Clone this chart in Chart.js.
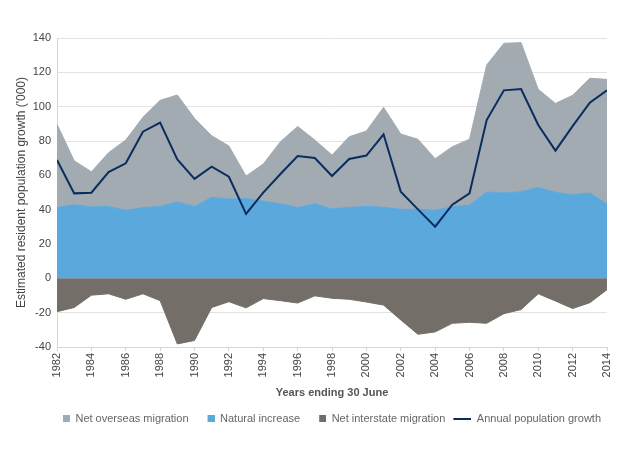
<!DOCTYPE html>
<html>
<head>
<meta charset="utf-8">
<script src="https://cdn.jsdelivr.net/npm/chart.js@4.4.0/dist/chart.umd.min.js"></script>
<style>
  html, body { margin: 0; padding: 0; background: #fff; }
</style>
</head>
<body>
<canvas id="popGrowth" width="631" height="462"></canvas>
<script>
// years ending 30 June
const years = [1982, 1983, 1984, 1985, 1986, 1987, 1988, 1989, 1990, 1991, 1992,
  1993, 1994, 1995, 1996, 1997, 1998, 1999, 2000, 2001, 2002, 2003, 2004, 2005,
  2006, 2007, 2008, 2009, 2010, 2011, 2012, 2013, 2014];

// '000 persons
const naturalIncrease = [41.2, 42.9, 41.6, 41.9, 39.6, 41.2, 41.9, 44.5, 41.9, 47.2, 46.2,
  46.6, 44.9, 43.5, 41.2, 43.5, 40.4, 41.4, 41.9, 41.4, 40.2, 40.2, 39.6, 41.7,
  42.7, 50.3, 49.7, 50.5, 53.0, 50.1, 48.7, 49.7, 43.3];
const netOverseas = [48.5, 25.6, 20.5, 31.3, 41.0, 52.6, 61.8, 62.3, 51.3, 35.9, 30.9,
  13.0, 21.7, 36.1, 47.3, 37.1, 31.4, 41.1, 43.9, 58.2, 43.9, 40.8, 30.1, 35.0,
  38.3, 74.0, 87.2, 86.8, 57.1, 51.8, 57.9, 66.8, 72.6];
const netInterstate = [-19.4, -17.0, -9.8, -9.0, -12.2, -9.0, -13.0, -38.2, -36.2, -17.0, -13.6,
  -17.2, -11.8, -13.0, -14.4, -10.2, -11.6, -12.2, -13.8, -15.6, -24.2, -32.6, -31.2, -26.2,
  -25.6, -26.2, -20.6, -18.2, -9.0, -13.2, -17.6, -14.2, -6.6];
const annualGrowth = [68.9, 49.5, 49.9, 61.9, 67.0, 85.4, 90.7, 69.3, 57.9, 65.0, 59.2,
  37.5, 49.9, 60.8, 71.3, 70.1, 59.6, 69.5, 71.5, 83.9, 50.5, 40.2, 30.1, 42.9,
  49.5, 92.2, 109.5, 110.3, 89.3, 74.4, 88.7, 102.3, 109.5];

const yMin = -40, yMax = 140, yStep = 20;
const xStep = 2;

const colNom = '#a3abb2';
const colNat = '#5ba8dc';
const colInter = '#736f68';
const colGrowth = '#0b2c5e';

function pts(vals) {
  return years.map((y, i) => ({ x: y, y: vals[i] }));
}

// small legend markers
function boxMarker(color) {
  const c = document.createElement('canvas');
  c.width = 20; c.height = 7;
  const g = c.getContext('2d');
  g.fillStyle = color;
  g.fillRect(13, 0, 7, 7);
  return c;
}
function lineMarker(color) {
  const c = document.createElement('canvas');
  c.width = 20; c.height = 2;
  const g = c.getContext('2d');
  g.fillStyle = color;
  g.fillRect(2, 0, 18, 2);
  return c;
}

const legendOrder = [1, 0, 2, 3];
const markers = [boxMarker(colNat), boxMarker(colNom), boxMarker(colInter), lineMarker(colGrowth)];

const ctx = document.getElementById('popGrowth').getContext('2d');
const chart = new Chart(ctx, {
  type: 'line',
  data: {
    datasets: [{
      label: 'Natural increase',
      data: pts(naturalIncrease),
      backgroundColor: colNat,
      borderColor: colNat,
      borderWidth: 1,
      fill: 'origin',
      stack: 'flows',
      order: 1
    }, {
      label: 'Net overseas migration',
      data: pts(netOverseas),
      backgroundColor: colNom,
      borderColor: colNom,
      borderWidth: 1,
      fill: '-1',
      stack: 'flows',
      order: 1
    }, {
      label: 'Net interstate migration',
      data: pts(netInterstate),
      backgroundColor: colInter,
      borderColor: colInter,
      borderWidth: 1,
      fill: 'origin',
      stack: 'flows',
      order: 1
    }, {
      label: 'Annual population growth',
      data: pts(annualGrowth),
      borderColor: colGrowth,
      backgroundColor: colGrowth,
      borderWidth: 2,
      fill: false,
      stack: 'growth',
      order: 0
    }]
  },
  options: {
    responsive: false,
    animation: false,
    elements: { point: { radius: 0 }, line: { tension: 0 } },
    layout: { padding: { left: 10, right: 24, top: 38, bottom: 28 } },
    scales: {
      x: {
        type: 'linear',
        min: years[0],
        max: years[years.length - 1],
        grid: { drawOnChartArea: false, drawTicks: true, tickLength: 4, color: '#d6d6d6' },
        border: { color: '#d6d6d6' },
        ticks: {
          stepSize: xStep,
          minRotation: 90,
          maxRotation: 90,
          padding: 2,
          color: '#444',
          font: { family: 'Liberation Sans', size: 11 },
          callback: v => String(v)
        },
        title: {
          display: true,
          text: 'Years ending 30 June',
          color: '#555',
          padding: { top: 4, bottom: 7 },
          font: { family: 'Liberation Sans', size: 11, weight: 'bold' }
        },
        afterFit: s => { s.height = 60; }
      },
      y: {
        stacked: true,
        min: yMin,
        max: yMax,
        grid: { color: '#e2e2e2', drawTicks: false },
        border: { color: '#d6d6d6' },
        ticks: {
          stepSize: yStep,
          padding: 6,
          color: '#444',
          font: { family: 'Liberation Sans', size: 11 }
        },
        title: {
          display: true,
          text: "Estimated resident population growth ('000)",
          color: '#444',
          font: { family: 'Liberation Sans', size: 12 }
        },
        afterFit: s => { s.width = 47; }
      }
    },
    plugins: {
      tooltip: { enabled: false },
      legend: {
        position: 'bottom',
        align: 'end',
        labels: {
          usePointStyle: true,
          pointStyleWidth: 20,
          boxHeight: 7,
          padding: 6,
          color: '#666',
          font: { family: 'Liberation Sans', size: 11 },
          generateLabels: c => legendOrder.map(i => ({
            text: c.data.datasets[i].label,
            datasetIndex: i,
            pointStyle: markers[i],
            fillStyle: c.data.datasets[i].backgroundColor,
            strokeStyle: c.data.datasets[i].borderColor,
            lineWidth: 0,
            fontColor: '#666',
            hidden: false
          }))
        }
      }
    }
  }
});
</script>
</body>
</html>
